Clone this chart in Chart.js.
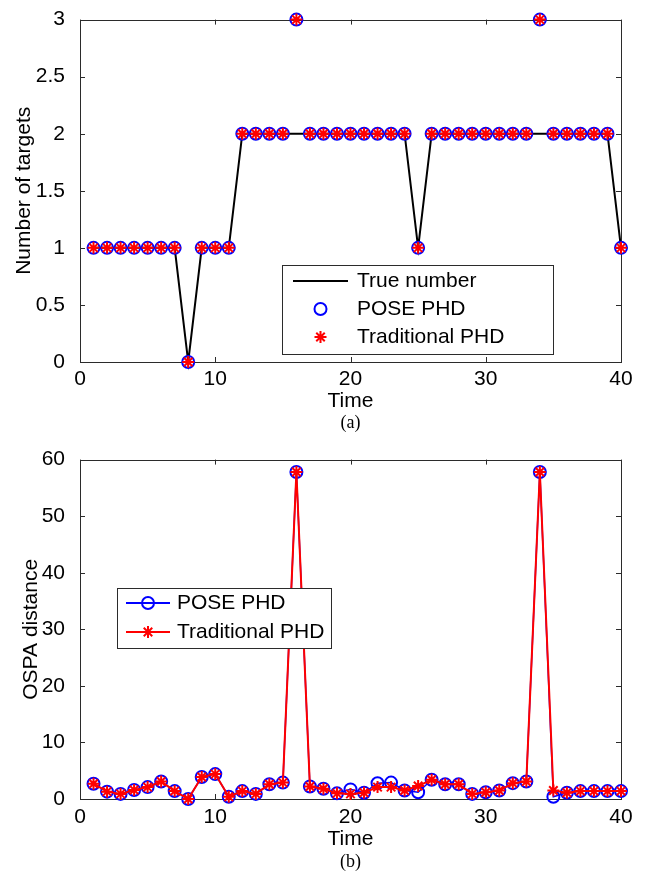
<!DOCTYPE html>
<html>
<head>
<meta charset="utf-8">
<title>Target number and OSPA distance</title>
<script src="https://cdn.jsdelivr.net/npm/chart.js@4.4.1/dist/chart.umd.min.js"></script>
<style>
  html, body { margin: 0; padding: 0; background: #fff; }
  #wrap { position: relative; width: 647px; height: 872px; overflow: hidden; }
  #wrap canvas { position: absolute; left: 0; }
  .caption {
    position: absolute; left: 80px; width: 541px; text-align: center;
    font-family: "Liberation Serif", "Times New Roman", serif; font-size: 18px;
    line-height: 20px; color: #000;
  }
</style>
</head>
<body>
<div id="wrap">
  <canvas id="countChart" width="647" height="440" style="top:0"></canvas>
  <canvas id="ospaChart" width="647" height="432" style="top:440px"></canvas>
  <div class="caption" style="top:412px">(a)</div>
  <div class="caption" style="top:851px">(b)</div>
</div>
<script>
// Time steps of the simulation
const timeSteps = [1, 2, 3, 4, 5, 6, 7, 8, 9, 10, 11, 12, 13, 14, 15, 16, 17, 18, 19, 20,
                   21, 22, 23, 24, 25, 26, 27, 28, 29, 30, 31, 32, 33, 34, 35, 36, 37, 38, 39, 40];

// (a) number of targets
const trueNumber = [1, 1, 1, 1, 1, 1, 1, 0, 1, 1, 1, 2, 2, 2, 2, 2, 2, 2, 2, 2,
                    2, 2, 2, 2, 1, 2, 2, 2, 2, 2, 2, 2, 2, 2, 2, 2, 2, 2, 2, 1];
const poseNumber = [1, 1, 1, 1, 1, 1, 1, 0, 1, 1, 1, 2, 2, 2, 2, 3, 2, 2, 2, 2,
                    2, 2, 2, 2, 1, 2, 2, 2, 2, 2, 2, 2, 2, 3, 2, 2, 2, 2, 2, 1];
const tradNumber = [1, 1, 1, 1, 1, 1, 1, 0, 1, 1, 1, 2, 2, 2, 2, 3, 2, 2, 2, 2,
                    2, 2, 2, 2, 1, 2, 2, 2, 2, 2, 2, 2, 2, 3, 2, 2, 2, 2, 2, 1];

// (b) OSPA distance
const poseOspa = [2.7, 1.3, 0.9, 1.6, 2.1, 3.1, 1.4, 0.0, 3.9, 4.4, 0.4, 1.4, 0.9, 2.6, 2.9, 57.8, 2.2, 1.8, 1.0, 1.7,
                  1.1, 2.8, 2.9, 1.5, 1.2, 3.4, 2.6, 2.6, 0.9, 1.2, 1.5, 2.8, 3.1, 57.8, 0.4, 1.1, 1.4, 1.4, 1.4, 1.4];
const tradOspa = [2.7, 1.3, 0.9, 1.6, 2.1, 3.1, 1.4, 0.0, 3.9, 4.4, 0.4, 1.4, 0.9, 2.6, 2.9, 57.8, 2.2, 1.8, 1.0, 0.9,
                  1.1, 2.1, 2.1, 1.5, 2.3, 3.4, 2.6, 2.6, 0.9, 1.2, 1.5, 2.8, 3.1, 57.8, 1.5, 1.1, 1.4, 1.4, 1.4, 1.4];

// Tick labels
const xTickValues = [0, 10, 20, 30, 40];
const countTickValues = [0, 0.5, 1, 1.5, 2, 2.5, 3];
const ospaTickValues = [0, 10, 20, 30, 40, 50, 60];

const FONT = { family: '"Liberation Sans", Arial, Helvetica, sans-serif', size: 21 };
const FRAME = '#2b2b2b';

const toPoints = vals => timeSteps.map((t, i) => ({ x: t, y: vals[i] }));

// Plot box with inward tick marks on all four sides
const frameAndTicks = {
  id: 'frameAndTicks',
  beforeDatasetsDraw(chart) {
    const { ctx, chartArea: a, scales } = chart;
    const len = 5;
    ctx.save();
    ctx.strokeStyle = FRAME;
    ctx.lineWidth = 1;
    ctx.beginPath();
    scales.x.ticks.forEach(t => {
      const px = Math.round(scales.x.getPixelForValue(t.value)) + 0.5;
      ctx.moveTo(px, a.bottom); ctx.lineTo(px, a.bottom - len);
      ctx.moveTo(px, a.top); ctx.lineTo(px, a.top + len);
    });
    scales.y.ticks.forEach(t => {
      const py = Math.round(scales.y.getPixelForValue(t.value)) + 0.5;
      ctx.moveTo(a.left, py); ctx.lineTo(a.left + len, py);
      ctx.moveTo(a.right, py); ctx.lineTo(a.right - len, py);
    });
    ctx.stroke();
    ctx.strokeRect(Math.round(a.left) + 0.5, Math.round(a.top) + 0.5,
                   Math.round(a.right - a.left), Math.round(a.bottom - a.top));
    ctx.restore();
  }
};

function drawMarker(ctx, style, x, y, r, color, lw) {
  ctx.save();
  ctx.strokeStyle = color;
  ctx.lineWidth = lw;
  ctx.beginPath();
  if (style === 'circle') {
    ctx.arc(x, y, r, 0, Math.PI * 2);
  } else {
    const d = r * Math.SQRT1_2;
    ctx.moveTo(x - r, y); ctx.lineTo(x + r, y);
    ctx.moveTo(x, y - r); ctx.lineTo(x, y + r);
    ctx.moveTo(x - d, y - d); ctx.lineTo(x + d, y + d);
    ctx.moveTo(x - d, y + d); ctx.lineTo(x + d, y - d);
  }
  ctx.stroke();
  ctx.restore();
}

// Boxed legend placed inside the plot area
const boxLegend = {
  id: 'boxLegend',
  afterDatasetsDraw(chart, args, opts) {
    const { ctx } = chart;
    const b = opts.box;
    ctx.save();
    ctx.fillStyle = '#fff';
    ctx.fillRect(b.left, b.top, b.right - b.left, b.bottom - b.top);
    ctx.strokeStyle = FRAME;
    ctx.lineWidth = 1;
    ctx.strokeRect(b.left + 0.5, b.top + 0.5, b.right - b.left, b.bottom - b.top);
    chart.data.datasets.forEach((ds, i) => {
      const y = opts.rows[i];
      if (ds.showLine !== false) {
        ctx.strokeStyle = ds.borderColor;
        ctx.lineWidth = 2;
        ctx.beginPath();
        ctx.moveTo(opts.sampleFrom, y); ctx.lineTo(opts.sampleTo, y);
        ctx.stroke();
      }
      if (ds.pointRadius > 0) {
        drawMarker(ctx, ds.pointStyle, (opts.sampleFrom + opts.sampleTo) / 2, y,
                   ds.pointRadius, ds.pointBorderColor, ds.pointBorderWidth);
      }
      ctx.fillStyle = '#000';
      ctx.font = FONT.size + 'px ' + FONT.family;
      ctx.textBaseline = 'middle';
      ctx.textAlign = 'left';
      ctx.fillText(ds.label, opts.textX, y);
    });
    ctx.restore();
  }
};

function buildScales(yTicks, yMax, yTitle, s) {
  return {
    x: {
      type: 'linear', min: 0, max: 40,
      grid: { display: false }, border: { display: false },
      afterBuildTicks: sc => { sc.ticks = xTickValues.map(v => ({ value: v })); },
      ticks: { color: '#000', font: FONT, padding: s.xTickPad, maxRotation: 0, autoSkip: false,
               callback: v => String(v) },
      title: { display: true, text: 'Time', color: '#000', font: FONT,
               padding: { top: 0, bottom: s.xTitlePad } },
      afterFit: sc => { sc.height = s.xHeight; }
    },
    y: {
      type: 'linear', min: 0, max: yMax,
      grid: { display: false }, border: { display: false },
      afterBuildTicks: sc => { sc.ticks = yTicks.map(v => ({ value: v })); },
      ticks: { color: '#000', font: FONT, padding: 7, autoSkip: false,
               callback: v => String(v) },
      title: { display: true, text: yTitle, color: '#000', font: FONT,
               padding: { top: s.yTitlePad, bottom: 0 } },
      afterFit: sc => { sc.width = 80; }
    }
  };
}

const common = {
  responsive: false,
  animation: false,
  events: [],
  devicePixelRatio: 1
};

new Chart(document.getElementById('countChart'), {
  type: 'line',
  data: {
    datasets: [
      { label: 'True number', data: toPoints(trueNumber), borderColor: '#000', borderWidth: 2,
        pointRadius: 0, tension: 0, order: 2, clip: false },
      { label: 'POSE PHD', data: toPoints(poseNumber), showLine: false, borderColor: '#0000ff',
        pointStyle: 'circle', pointRadius: 6, pointBorderWidth: 2, pointBorderColor: '#0000ff',
        pointBackgroundColor: 'rgba(0,0,0,0)', order: 1, clip: false },
      { label: 'Traditional PHD', data: toPoints(tradNumber), showLine: false, borderColor: '#ff0000',
        pointStyle: 'star', pointRadius: 6, pointBorderWidth: 2, pointBorderColor: '#ff0000',
        pointBackgroundColor: 'rgba(0,0,0,0)', order: 0, clip: false }
    ]
  },
  options: Object.assign({}, common, {
    layout: { padding: { top: 17, right: 26, left: 0, bottom: 0 } },
    scales: buildScales(countTickValues, 3, 'Number of targets',
                        { xTickPad: -3, xTitlePad: 26, xHeight: 78, yTitlePad: 12 }),
    plugins: {
      legend: { display: false },
      tooltip: { enabled: false },
      boxLegend: { box: { left: 282, top: 265, right: 553, bottom: 354 },
                   rows: [281, 309, 337], sampleFrom: 293, sampleTo: 348, textX: 357 }
    }
  }),
  plugins: [frameAndTicks, boxLegend]
});

new Chart(document.getElementById('ospaChart'), {
  type: 'line',
  data: {
    datasets: [
      { label: 'POSE PHD', data: toPoints(poseOspa), borderColor: '#0000ff', borderWidth: 1.5,
        pointStyle: 'circle', pointRadius: 6, pointBorderWidth: 2, pointBorderColor: '#0000ff',
        pointBackgroundColor: 'rgba(0,0,0,0)', tension: 0, order: 1, clip: false },
      { label: 'Traditional PHD', data: toPoints(tradOspa), borderColor: '#ff0000', borderWidth: 2,
        pointStyle: 'star', pointRadius: 6, pointBorderWidth: 2, pointBorderColor: '#ff0000',
        pointBackgroundColor: 'rgba(0,0,0,0)', tension: 0, order: 0, clip: false }
    ]
  },
  options: Object.assign({}, common, {
    layout: { padding: { top: 17, right: 26, left: 0, bottom: 0 } },
    scales: buildScales(ospaTickValues, 60, 'OSPA distance',
                        { xTickPad: -2, xTitlePad: 20, xHeight: 73, yTitlePad: 19 }),
    plugins: {
      legend: { display: false },
      tooltip: { enabled: false },
      boxLegend: { box: { left: 117, top: 148, right: 331, bottom: 208 },
                   rows: [163, 192], sampleFrom: 126, sampleTo: 170, textX: 177 }
    }
  }),
  plugins: [frameAndTicks, boxLegend]
});
</script>
</body>
</html>
